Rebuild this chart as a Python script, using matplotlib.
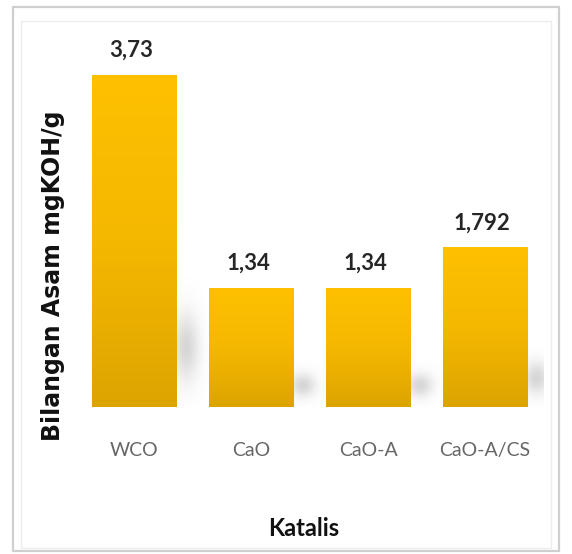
import numpy as np
import matplotlib
matplotlib.use("Agg")
import matplotlib.pyplot as plt
from matplotlib.colors import LinearSegmentedColormap
from matplotlib.patches import Rectangle

katalis = ["WCO", "CaO", "CaO-A", "CaO-A/CS"]
bilangan_asam = [3.73, 1.34, 1.34, 1.792]
label_nilai = ["3,73", "1,34", "1,34", "1,792"]

W, H = 572, 554
fig = plt.figure(figsize=(W / 100, H / 100), dpi=100)

# bingkai luar
fig.patches.append(Rectangle((13 / W, 3 / H), 546 / W, 544 / H, transform=fig.transFigure,
                             fill=False, edgecolor="#cfcfcf", linewidth=1.6))
fig.patches.append(Rectangle((21 / W, 6 / H), 530 / W, 527 / H, transform=fig.transFigure,
                             fill=False, edgecolor="#ececec", linewidth=1.0))

ax = fig.add_axes([75.5 / W, (H - 407) / H, 468 / W, 357 / H])
for s in ax.spines.values():
    s.set_visible(False)
ax.set_yticks([])

lebar = 0.72
x = np.arange(len(katalis))

# bayangan lembut di kanan bawah tiap batang
gx = np.linspace(-0.5, 3.5, 800)
gy = np.linspace(0, 4.01, 400)
XX, YY = np.meshgrid(gx, gy)
alpha = np.zeros_like(XX)
for xi, v in zip(x, bilangan_asam):
    cx = xi + lebar / 2 + 0.08
    cy = 0.18 * v
    alpha += 0.40 * np.exp(-((XX - cx) / 0.11) ** 2 - ((YY - cy) / (0.10 * v)) ** 2)
alpha = np.clip(alpha, 0, 1)
rgba = np.zeros(XX.shape + (4,))
rgba[..., :3] = 0.6
rgba[..., 3] = alpha
ax.imshow(rgba, extent=(-0.5, 3.5, 0, 4.01), origin="lower", aspect="auto", zorder=1)

# batang dengan gradasi kuning
cmap = LinearSegmentedColormap.from_list("kuning", ["#dca400", "#f5b800", "#ffc000"])
grad = np.linspace(0, 1, 256).reshape(-1, 1)
bars = ax.bar(x, bilangan_asam, width=lebar, color="none", edgecolor="none", zorder=2)
for b, v in zip(bars, bilangan_asam):
    im = ax.imshow(grad, cmap=cmap, origin="lower", aspect="auto", zorder=2,
                   extent=(b.get_x(), b.get_x() + b.get_width(), 0, v))
    im.set_clip_path(b)

for xi, v, t in zip(x, bilangan_asam, label_nilai):
    ax.annotate(t, (xi, v), xytext=(-2, 10), textcoords="offset points",
                ha="center", va="bottom", fontsize=16, fontweight="bold",
                family=["Lato", "DejaVu Sans"], color="#262626")

ax.set_xticks(x)
ax.set_xticklabels(katalis, fontsize=14, color="#666666", family=["Lato", "DejaVu Sans"])
ax.tick_params(axis="x", length=0, pad=25)
ax.set_xlim(-0.5, 3.5)
ax.set_ylim(0, 4.01)

fig.text(304 / W, 1 - 528 / H, "Katalis", ha="center", va="center", fontsize=17,
         fontweight="bold", family=["Lato", "DejaVu Sans"], color="#111111")
fig.text(53 / W, 1 - 276 / H, "Bilangan Asam mgKOH/g", ha="center", va="center",
         rotation=90, fontsize=17, fontweight="bold", color="#111111")

fig.savefig("out.png", dpi=100)
